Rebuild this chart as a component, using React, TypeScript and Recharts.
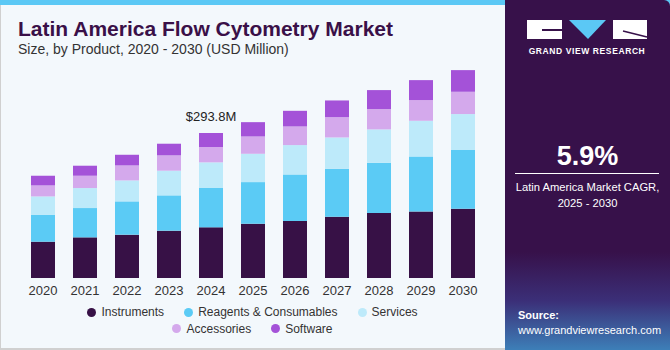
import { Bar, BarChart, LabelList, XAxis, YAxis } from "recharts";

const years = ["2020", "2021", "2022", "2023", "2024", "2025", "2026", "2027", "2028", "2029", "2030"];
const instruments = [73.6, 82.4, 87.8, 95.9, 102.7, 110.0, 115.5, 124.2, 131.7, 135.0, 140.5];
const reagents = [54.7, 59.4, 67.5, 71.6, 79.7, 84.4, 94.5, 97.2, 102.0, 111.4, 118.9];
const services = [37.1, 40.5, 42.5, 50.0, 52.0, 57.4, 59.4, 63.5, 67.5, 72.3, 72.9];
const accessories = [22.3, 25.0, 30.4, 31.1, 31.1, 35.1, 37.8, 41.2, 41.2, 41.9, 45.2];
const software = [19.6, 20.3, 21.6, 23.6, 28.4, 29.0, 31.7, 33.8, 38.5, 40.5, 43.9];
const labelYear = "2024";
const labelText = "$293.8M";

const seriesNames = ["Instruments", "Reagents & Consumables", "Services", "Accessories", "Software"];
const seriesKeys = ["instruments", "reagents", "services", "accessories", "software"];
const colors = ["#371146", "#5bcbf5", "#bdeafa", "#d4a9ec", "#a452d8"];

const data = years.map((year, i) => ({
  year,
  instruments: instruments[i],
  reagents: reagents[i],
  services: services[i],
  accessories: accessories[i],
  software: software[i],
}));

const font = "'Liberation Sans', Arial, sans-serif";

function TopLabel(props: any) {
  const { x, y, width, index } = props;
  if (years[index] !== labelYear) return null;
  return (
    <text x={x + width / 2} y={y - 12} textAnchor="middle" fontSize={13} fill="#222" fontFamily={font}>
      {labelText}
    </text>
  );
}

function LegendItem({ i }: { i: number }) {
  return (
    <span style={{ display: "inline-flex", alignItems: "center", margin: "0 10px" }}>
      <span
        style={{
          width: 9,
          height: 9,
          borderRadius: "50%",
          background: colors[i],
          display: "inline-block",
          marginRight: 5,
        }}
      />
      {seriesNames[i]}
    </span>
  );
}

export default function App() {
  return (
    <div
      style={{
        position: "fixed",
        left: 0,
        top: 0,
        width: 670,
        height: 350,
        background: "#f3f8fc",
        fontFamily: font,
        overflow: "hidden",
      }}
    >
      <div style={{ position: "absolute", left: 0, top: 0, width: 670, height: 5, background: "#5bc8f5" }} />
      <div style={{ position: "absolute", left: 0, top: 5, width: 1, height: 345, background: "#d0d0d0" }} />
      <div style={{ position: "absolute", left: 0, top: 348, width: 505, height: 2, background: "#d0d0d0" }} />

      <div
        style={{
          position: "absolute",
          left: 18,
          top: 17,
          fontSize: 21,
          fontWeight: "bold",
          color: "#3a1048",
          whiteSpace: "nowrap",
        }}
      >
        Latin America Flow Cytometry Market
      </div>
      <div style={{ position: "absolute", left: 18, top: 41, fontSize: 14, color: "#333" }}>
        Size, by Product, 2020 - 2030 (USD Million)
      </div>

      <div style={{ position: "absolute", left: 0, top: 0 }}>
        <BarChart
          width={505}
          height={300}
          data={data}
          margin={{ top: 56, right: 21, left: 22, bottom: 2 }}
          barSize={24}
        >
          <XAxis
            dataKey="year"
            axisLine={false}
            tickLine={false}
            height={20}
            tick={{ fontSize: 13, fill: "#333", fontFamily: font }}
            interval={0}
          />
          <YAxis hide domain={[0, 450]} />
          {seriesKeys.map((k, i) => (
            <Bar key={k} dataKey={k} stackId="a" fill={colors[i]} isAnimationActive={false}>
              {i === seriesKeys.length - 1 && <LabelList dataKey={k} content={<TopLabel />} />}
            </Bar>
          ))}
        </BarChart>
      </div>

      <div
        style={{
          position: "absolute",
          left: 0,
          top: 304,
          width: 505,
          fontSize: 12,
          color: "#333",
          textAlign: "center",
          lineHeight: "16px",
        }}
      >
        <div>
          <LegendItem i={0} />
          <LegendItem i={1} />
          <LegendItem i={2} />
        </div>
        <div>
          <LegendItem i={3} />
          <LegendItem i={4} />
        </div>
      </div>

      <div
        style={{
          position: "absolute",
          left: 505,
          top: 0,
          width: 165,
          height: 350,
          background: "linear-gradient(180deg, #37114a 0%, #37114a 72%, #3b2f78 86%, #3d7fb8 100%)",
          borderTopRightRadius: 6,
          color: "#fff",
        }}
      >
        <svg width={165} height={60} style={{ position: "absolute", left: 0, top: 0 }}>
          <rect x={22} y={20} width={35} height={19} fill="#fff" />
          <rect x={37} y={29} width={20} height={2} fill="#37114a" />
          <polygon points="64,20 101,20 83,39" fill="#5bc8f5" />
          <rect x={108} y={20} width={34} height={19} fill="#fff" />
          <line x1={118} y1={31} x2={142} y2={37} stroke="#37114a" strokeWidth={1.5} />
          <text x={82} y={54} textAnchor="middle" fontSize={8.5} fontWeight="bold" fill="#fff" fontFamily={font} letterSpacing={0.6}>
            GRAND VIEW RESEARCH
          </text>
        </svg>
        <div style={{ position: "absolute", left: 0, width: 165, top: 141, textAlign: "center", fontSize: 27, fontWeight: "bold" }}>
          5.9%
        </div>
        <div style={{ position: "absolute", left: 10, width: 144, top: 173, height: 1, background: "#fff" }} />
        <div style={{ position: "absolute", left: 0, width: 165, top: 179, textAlign: "center", fontSize: 11.2, lineHeight: "16px" }}>
          Latin America Market CAGR,
          <br />
          2025 - 2030
        </div>
        <div style={{ position: "absolute", left: 13, top: 308, fontSize: 11, lineHeight: "15px" }}>
          <b>Source:</b>
          <br />
          www.grandviewresearch.com
        </div>
      </div>
    </div>
  );
}
